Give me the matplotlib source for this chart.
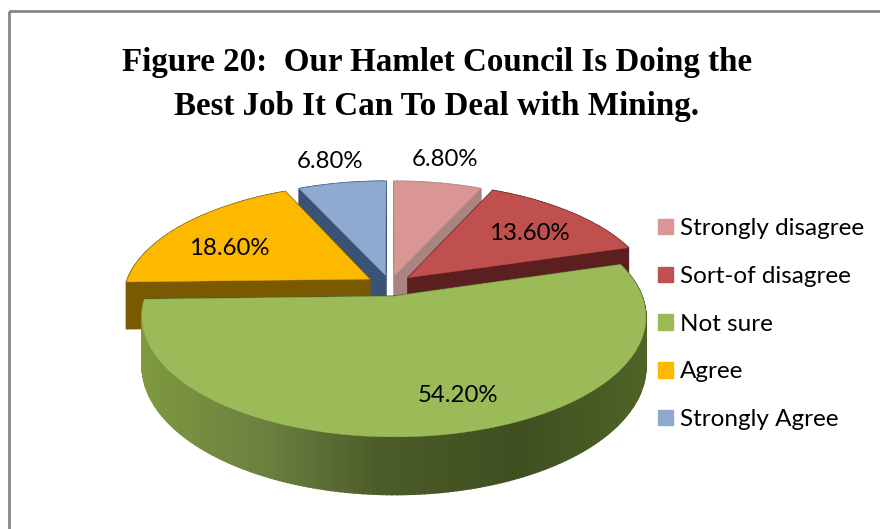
import numpy as np
import matplotlib
matplotlib.use("Agg")
import matplotlib.pyplot as plt
from matplotlib.colors import to_rgb
from matplotlib.patches import Rectangle

# chart data
categories = ["Strongly disagree", "Sort-of disagree", "Not sure", "Agree", "Strongly Agree"]
values = [6.8, 13.6, 54.2, 18.6, 6.8]
labels = ["6.80%", "13.60%", "54.20%", "18.60%", "6.80%"]
title_lines = ["Figure 20:  Our Hamlet Council Is Doing the", "Best Job It Can To Deal with Mining."]

# look
top_colors = ["#d99694", "#c0504d", "#9bbb59", "#fdb900", "#8eaad0"]
side_colors = ["#a98483", "#5c1f20", "#66783f", "#7a5a00", "#3a5273"]
green_stops = ["#7f9a3e", "#6c8040", "#4a5a28", "#3f4f20", "#4f6326"]
label_pos = [(445, 159.5), (529, 233.5), (458, 395.5), (229, 248.5), (330, 161.5)]
explode = [0.09, 0.10, 0.10, 0.10, 0.09]
draw_order = [4, 0, 3, 1, 2]

# perspective of the pie, in pixels of the picture
cx, cy = 390, 285
rx, ry = 244, 112.7
tilt = 0.168
depth = 47


def project(u, v):
    w = 1 + tilt * v
    return cx + rx * u / w, cy - ry * v / w, depth / w


def outline(start, end, off):
    # apex then the outer arc, angles clockwise from 12 o'clock in percent
    mid = np.radians((start + end) / 2 * 3.6)
    du, dv = off * np.sin(mid), off * np.cos(mid)
    th = np.radians(np.linspace(start, end, max(int((end - start) * 4), 8)) * 3.6)
    u = np.concatenate([[0], np.sin(th)]) + du
    v = np.concatenate([[0], np.cos(th)]) + dv
    return project(u, v)


def green_color(t):
    rgb = np.array([to_rgb(c) for c in green_stops])
    pos = np.linspace(0, 1, len(rgb))
    return [np.interp(t, pos, rgb[:, i]) for i in range(3)]


fig = plt.figure(figsize=(8.8, 5.29), dpi=100)
ax = fig.add_axes([0, 0, 1, 1])
ax.set_xlim(0, 880)
ax.set_ylim(529, 0)
ax.axis("off")

# chart frame runs off the right and bottom of the crop
ax.add_patch(Rectangle((9, 11), 900, 540, fill=False, edgecolor="#868686", lw=2))

ends = np.cumsum(values)
starts = ends - np.array(values)

for i in draw_order:
    x, y, d = outline(starts[i], ends[i], explode[i])
    n = len(x)
    quads = []
    for k in range(n):
        j = (k + 1) % n
        xs = [x[k], x[j], x[j], x[k]]
        ys = [y[k], y[j], y[j] + d[j], y[k] + d[k]]
        quads.append((np.mean(ys), xs, ys))
    quads.sort(key=lambda q: q[0])
    for _, xs, ys in quads:
        col = side_colors[i]
        if i == 2:
            col = green_color((max(xs) - 140) / 505)
        ax.fill(xs, ys, color=col, lw=1.2, zorder=2 + draw_order.index(i))
    ax.fill(x, y, color=top_colors[i], lw=0.3, zorder=2 + draw_order.index(i))

for pos, lab in zip(label_pos, labels):
    ax.text(pos[0], pos[1], lab, ha="center", va="center", fontsize=17.3, family="Lato", color="black", zorder=10)

ax.text(437, 63, title_lines[0], ha="center", va="center", fontsize=23.8, fontweight="bold",
        family="Liberation Serif", color="black")
ax.text(437, 106, title_lines[1], ha="center", va="center", fontsize=23.8, fontweight="bold",
        family="Liberation Serif", color="black")

handles = [Rectangle((0, 0), 1, 1, color=c) for c in top_colors]
ax.legend(handles, categories, loc="upper left", bbox_to_anchor=(648.5 / 880, 1 - 208.5 / 529), frameon=False,
          prop={"family": "Lato", "size": 17.5}, handlelength=0.6, handleheight=0.6,
          handletextpad=0.29, labelspacing=1.1, borderpad=0, borderaxespad=0.4)

fig.savefig("out.png", dpi=100)
